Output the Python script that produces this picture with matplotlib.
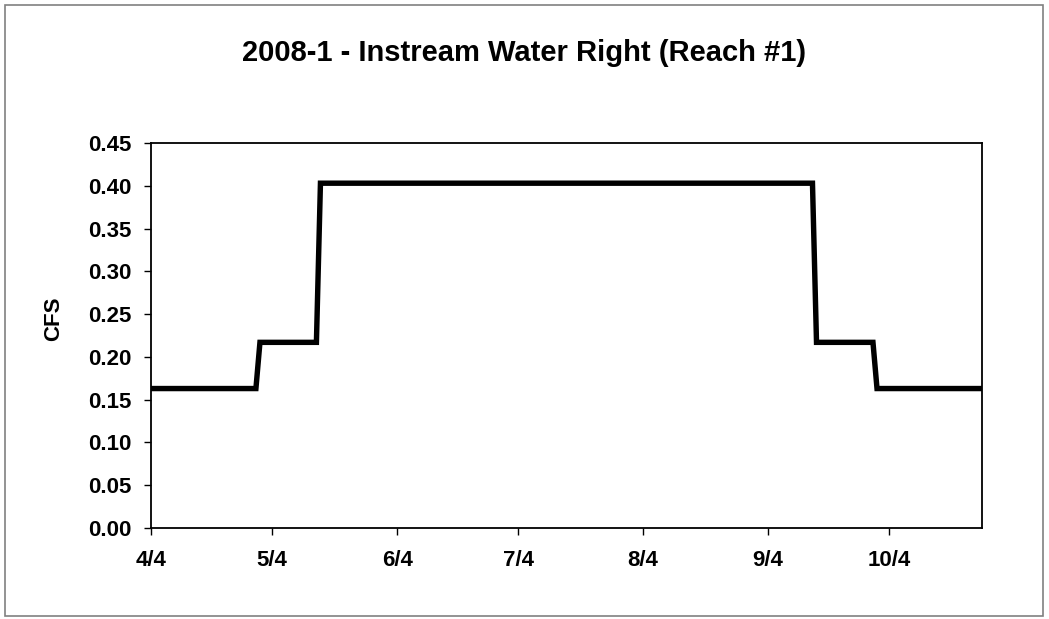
import datetime as dt
import matplotlib
matplotlib.use('Agg')
import matplotlib.pyplot as plt
from matplotlib.patches import Rectangle


# flow schedule (daily points where the level changes)
dates = ['2008-04-04', '2008-04-30', '2008-05-01', '2008-05-15', '2008-05-16',
		'2008-09-15', '2008-09-16', '2008-09-30', '2008-10-01', '2008-10-27']
cfs = [0.163, 0.163, 0.217, 0.217, 0.403, 0.403, 0.217, 0.217, 0.163, 0.163]

tick_dates = ['2008-04-04', '2008-05-04', '2008-06-04', '2008-07-04',
			'2008-08-04', '2008-09-04', '2008-10-04']
tick_labels = ['4/4', '5/4', '6/4', '7/4', '8/4', '9/4', '10/4']

y_ticks = [0.00, 0.05, 0.10, 0.15, 0.20, 0.25, 0.30, 0.35, 0.40, 0.45]


def to_dt(s):
	return dt.datetime.strptime(s, '%Y-%m-%d')


def plot_chart():

	plt.rcParams['font.family'] = ['Liberation Sans', 'DejaVu Sans']
	plt.rcParams['font.weight'] = 'bold'

	fig = plt.figure(figsize=(10.49, 6.19), dpi=100)
	ax = fig.add_axes([0.144, 0.147, 0.792, 0.622])

	x = [to_dt(d) for d in dates]
	ax.plot(x, cfs, '-', color='black', linewidth=3.9, solid_joinstyle='miter')

	ax.set_xlim(x[0], x[-1])
	ax.set_ylim(0, 0.45)

	ax.set_xticks([to_dt(d) for d in tick_dates])
	ax.set_xticklabels(tick_labels, fontsize=16, fontweight='bold')
	ax.set_yticks(y_ticks)
	ax.set_yticklabels(['%.2f' % v for v in y_ticks], fontsize=16, fontweight='bold')

	ax.tick_params(axis='x', direction='out', length=5, width=1, pad=11)
	ax.tick_params(axis='y', direction='out', length=5, width=1, pad=9)
	for sp in ax.spines.values():
		sp.set_linewidth(1.3)

	ax.set_ylabel('CFS', fontsize=16, fontweight='bold')
	ax.yaxis.set_label_coords(-0.105, 0.543)

	fig.text(0.5, 0.914, '2008-1 - Instream Water Right (Reach #1)',
			ha='center', va='center', fontsize=21, fontweight='bold')

	# thin grey frame round the whole chart
	fig.patches.append(Rectangle((5 / 1049, 3 / 619), 1038 / 1049, 611 / 619,
								transform=fig.transFigure, fill=False,
								edgecolor='#808080', linewidth=1.2))

	plt.savefig('out.png', dpi=100, facecolor='white')


plot_chart()
